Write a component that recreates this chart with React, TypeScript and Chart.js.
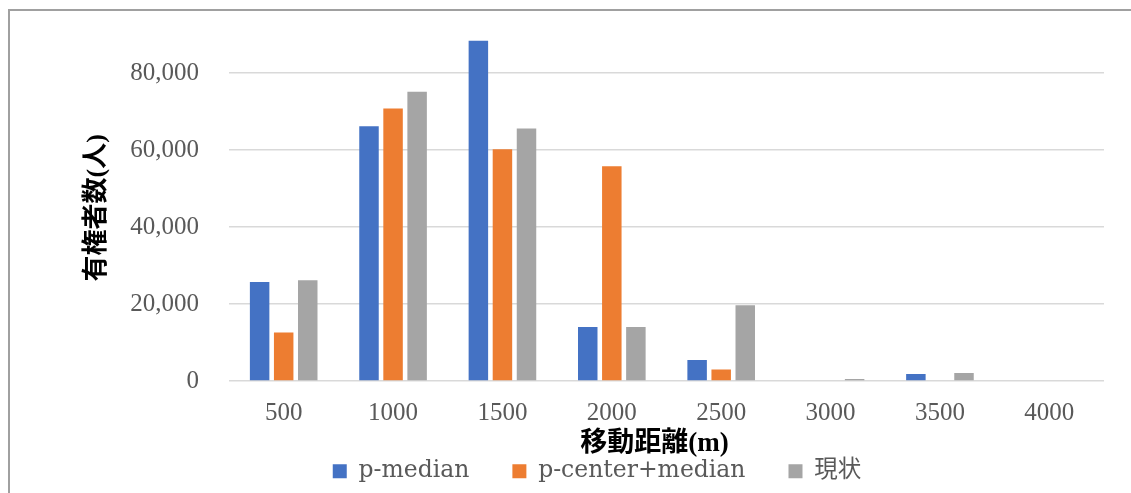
import React, { useEffect, useRef } from 'react';
import { Chart, registerables } from 'chart.js';

Chart.register(...registerables);

// Walking distance buckets (m)
const CATEGORIES = ['500', '1000', '1500', '2000', '2500', '3000', '3500', '4000'];

// Number of voters per distance bucket
const P_MEDIAN = [25700, 66200, 88400, 14000, 5450, 0, 1800, 0];
const P_CENTER_MEDIAN = [12600, 70800, 60200, 55800, 3000, 0, 0, 0];
const CURRENT = [26200, 75100, 65600, 14000, 19700, 500, 2100, 0];

const SERIES_NAMES = ['p-median', 'p-center+median', '現状'];
const SERIES_COLORS = ['#4472C4', '#ED7D31', '#A5A5A5'];

const Y_TICKS = [0, 20000, 40000, 60000, 80000];
const Y_MAX = 90000;

const X_TITLE = '移動距離(m)';
const Y_TITLE = '有権者数(人)';

const TICK_FONT = "'Liberation Serif', 'Noto Sans CJK JP', serif";
const LEGEND_FONT = "'DejaVu Serif', 'Noto Sans CJK JP', serif";
const TITLE_FONT = "'Liberation Serif', 'Noto Sans CJK JP', serif";
const TEXT_GRAY = '#595959';

// Places the bottom legend row a little right of the canvas centre, pulled up
// by the amount the bottom layout padding hangs below the canvas; also moves
// the x-axis title slightly left of the plot centre.
const layoutTweaks = {
  id: 'layoutTweaks',
  afterLayout(chart: any) {
    const legend = chart.legend;
    if (legend) {
      legend.left += 45;
      legend.right += 45;
      legend.top -= 9.5;
      legend.bottom -= 9.5;
    }
    const xScale = chart.scales.x;
    if (xScale && !xScale._titleShifted) {
      const baseDrawTitle = xScale.drawTitle;
      xScale.drawTitle = function (...args: any[]) {
        const ctx = this.ctx;
        ctx.save();
        ctx.translate(-12, 0);
        baseDrawTitle.apply(this, args);
        ctx.restore();
      };
      xScale._titleShifted = true;
    }
  },
};

export default function App() {
  const canvasRef = useRef<HTMLCanvasElement>(null);

  useEffect(() => {
    const canvas = canvasRef.current;
    if (!canvas) return;
    const seriesValues = [P_MEDIAN, P_CENTER_MEDIAN, CURRENT];
    const chart = new Chart(canvas, {
      type: 'bar',
      data: {
        labels: CATEGORIES,
        datasets: SERIES_NAMES.map((name, i) => ({
          label: name,
          data: seriesValues[i],
          backgroundColor: SERIES_COLORS[i],
          borderWidth: 0,
          categoryPercentage: 0.66,
          barPercentage: 0.81,
        })),
      },
      options: {
        responsive: false,
        animation: false,
        layout: { padding: { left: 0, right: 27, top: 34.5, bottom: -9.5 } },
        plugins: {
          legend: {
            position: 'bottom',
            labels: {
              boxWidth: 14,
              boxHeight: 14,
              padding: 43,
              color: TEXT_GRAY,
              font: { family: LEGEND_FONT, size: 23.5 },
            },
          },
          tooltip: { enabled: false },
        },
        scales: {
          x: {
            grid: { display: false },
            border: { display: false },
            ticks: {
              color: TEXT_GRAY,
              padding: 9.5,
              font: { family: TICK_FONT, size: 25 },
            },
            title: {
              display: true,
              text: X_TITLE,
              color: '#000000',
              font: { family: TITLE_FONT, size: 27, weight: 'bold' },
              padding: { top: 0, bottom: -34 },
            },
            afterFit(scale: any) {
              scale.height = 45;
              scale.paddingLeft = 0;
              scale.paddingRight = 0;
            },
          },
          y: {
            min: 0,
            max: Y_MAX,
            grid: { color: '#d9d9d9', lineWidth: 1.5, drawTicks: false },
            border: { display: false },
            ticks: {
              color: TEXT_GRAY,
              padding: 30,
              font: { family: TICK_FONT, size: 25 },
              callback: (v: any) => Number(v).toLocaleString('en-US'),
            },
            afterBuildTicks(scale: any) {
              scale.ticks = Y_TICKS.map((value) => ({ value }));
            },
            title: {
              display: true,
              text: Y_TITLE,
              color: '#000000',
              font: { family: TITLE_FONT, size: 26, weight: 'bold' },
              padding: { top: 81.4, bottom: 0 },
            },
            afterFit(scale: any) {
              scale.width = 229;
              scale.paddingTop = 0;
              scale.paddingBottom = 0;
            },
          },
        },
      },
      plugins: [layoutTweaks],
    } as any);
    return () => chart.destroy();
  }, []);

  return (
    <div
      style={{
        position: 'fixed',
        left: 0,
        top: 0,
        width: 1131,
        height: 493,
        overflow: 'hidden',
        background: '#ffffff',
      }}
    >
      <div
        style={{
          position: 'absolute',
          left: 8,
          top: 9,
          width: 1400,
          height: 800,
          border: '2px solid #a0a0a0',
          boxSizing: 'border-box',
        }}
      />
      <canvas
        ref={canvasRef}
        width={1131}
        height={493}
        style={{ position: 'absolute', left: 0, top: 0, width: 1131, height: 493 }}
      />
    </div>
  );
}
